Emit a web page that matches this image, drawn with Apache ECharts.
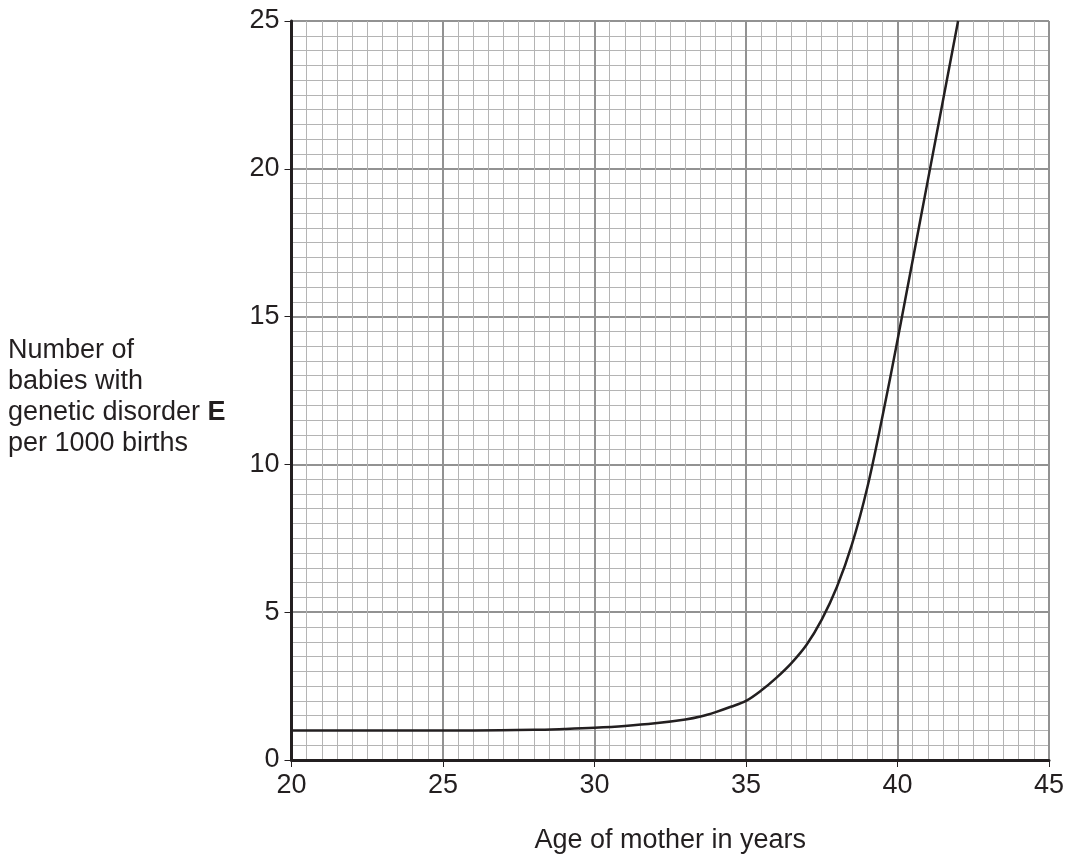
<!DOCTYPE html>
<html>
<head>
<meta charset="utf-8">
<script src="https://cdn.jsdelivr.net/npm/echarts@6/dist/echarts.min.js"></script>
<style>
html,body{margin:0;padding:0;background:#fff;}
#chart{width:1067px;height:859px;}
</style>
</head>
<body>
<div id="chart"></div>
<script>
// Age of mother in years
const ages = [20, 22, 24, 26, 28, 29, 30, 31, 32, 33, 33.5, 34, 34.5, 35, 35.5, 36, 36.5, 37, 37.5, 38, 38.5, 39, 39.5, 40, 40.5, 41, 41.5, 42];
// Number of babies with genetic disorder E per 1000 births
const cases = [1.0, 1.0, 1.0, 1.0, 1.02, 1.05, 1.09, 1.15, 1.24, 1.37, 1.47, 1.62, 1.8, 2.0, 2.35, 2.78, 3.28, 3.9, 4.75, 5.85, 7.3, 9.2, 11.6, 14.2, 16.9, 19.6, 22.3, 25.0];
const xTitle = 'Age of mother in years';
const yTitleLines = ['Number of', 'babies with', 'genetic disorder {b|E}', 'per 1000 births'];

const ink = '#231f20';
const font = 'Arial, "Liberation Sans", sans-serif';

const chart = echarts.init(document.getElementById('chart'), null, {renderer: 'canvas'});
chart.setOption({
  animation: false,
  backgroundColor: '#ffffff',
  grid: {left: 291.5, right: 18, top: 21, bottom: 83, containLabel: false},
  xAxis: {
    type: 'value', min: 20, max: 45, interval: 5,
    name: xTitle, nameLocation: 'middle', nameGap: 67,
    nameTextStyle: {fontSize: 27, color: ink, fontFamily: font},
    axisLine: {show: true, onZero: false, lineStyle: {color: ink, width: 3}},
    axisTick: {show: true, length: 7, lineStyle: {color: ink, width: 1}},
    axisLabel: {fontSize: 27, color: ink, fontFamily: font, margin: 12},
    splitLine: {show: true, lineStyle: {color: '#929292', width: 2}},
    minorTick: {show: false, splitNumber: 10},
    minorSplitLine: {show: true, lineStyle: {color: '#b4b4b4', width: 1}}
  },
  yAxis: {
    type: 'value', min: 0, max: 25, interval: 5,
    axisLine: {show: true, onZero: false, lineStyle: {color: ink, width: 3}},
    axisTick: {show: true, length: 7, lineStyle: {color: ink, width: 1}},
    axisLabel: {fontSize: 27, color: ink, fontFamily: font, margin: 12},
    splitLine: {show: true, lineStyle: {color: '#929292', width: 2}},
    minorTick: {show: false, splitNumber: 10},
    minorSplitLine: {show: true, lineStyle: {color: '#b4b4b4', width: 1}}
  },
  graphic: [{
    type: 'text', left: 8, top: 335,
    style: {
      text: yTitleLines.join('\n'),
      fontSize: 27, fontFamily: font, fill: ink, lineHeight: 31,
      rich: {b: {fontWeight: 'bold', fontSize: 27, fontFamily: font, fill: ink, lineHeight: 31}}
    }
  }],
  series: [{
    type: 'line',
    data: ages.map((a, i) => [a, cases[i]]),
    smooth: 0.35,
    showSymbol: false,
    lineStyle: {color: ink, width: 2.5},
    z: 5
  }]
});
</script>
</body>
</html>
